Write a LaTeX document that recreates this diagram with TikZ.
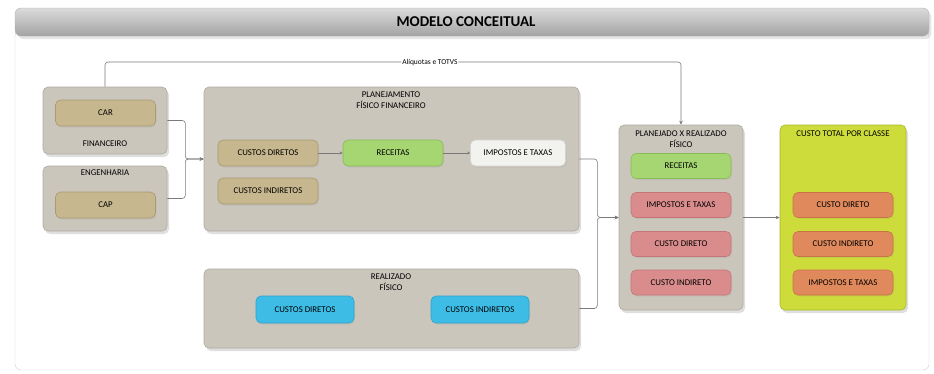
\documentclass[tikz,border=0pt]{standalone}
\usepackage{fontspec}
\setmainfont{Carlito}
\usetikzlibrary{positioning, shapes.geometric, arrows.meta, shadows}

\definecolor{grpfill}{HTML}{CAC6BC}
\definecolor{grpdraw}{HTML}{B0AB9F}
\definecolor{tanfill}{HTML}{C7B78E}
\definecolor{tandraw}{HTML}{A99A72}
\definecolor{grnfill}{HTML}{A6D672}
\definecolor{grndraw}{HTML}{86BD55}
\definecolor{whtfill}{HTML}{F2F2EF}
\definecolor{whtdraw}{HTML}{D5D5D0}
\definecolor{pnkfill}{HTML}{DA8C8C}
\definecolor{pnkdraw}{HTML}{C47676}
\definecolor{blufill}{HTML}{3DBDE6}
\definecolor{bludraw}{HTML}{2CA3CC}
\definecolor{ylwfill}{HTML}{CDDC3A}
\definecolor{ylwdraw}{HTML}{AAB72C}
\definecolor{orgfill}{HTML}{E0895C}
\definecolor{orgdraw}{HTML}{C87448}
\definecolor{linecol}{HTML}{7A7A7A}

\tikzset{
  grp/.style={draw=grpdraw, fill=grpfill, rounded corners=5pt, line width=0.6pt,
    drop shadow={opacity=0.25, shadow xshift=2pt, shadow yshift=-3pt}},
  item/.style={rounded corners=5pt, line width=0.6pt, minimum width=100pt,
    minimum height=26pt, font=\fontsize{8.8}{9}\selectfont,
    drop shadow={opacity=0.12, shadow xshift=1pt, shadow yshift=-1.5pt}},
  tanbox/.style={item, draw=tandraw, fill=tanfill},
  grnbox/.style={item, draw=grndraw, fill=grnfill},
  whtbox/.style={item, draw=whtdraw, fill=whtfill},
  pnkbox/.style={item, draw=pnkdraw, fill=pnkfill},
  blubox/.style={item, draw=bludraw, fill=blufill},
  orgbox/.style={item, draw=orgdraw, fill=orgfill},
  lbl/.style={font=\fontsize{8.8}{11}\selectfont, align=center},
  conn/.style={draw=linecol, line width=0.6pt, rounded corners=3pt, -{Stealth[length=4pt,width=3.5pt]}}
}

\begin{document}
\begin{tikzpicture}[x=1pt, y=-1pt]
  \useasboundingbox (0,0) rectangle (934,373);
  % moldura e titulo
  \draw[draw=black!18, fill=white, rounded corners=6pt] (15,30) rectangle (929,370);
  \shade[top color=black!14, bottom color=black!36, draw=black!30, rounded corners=6pt,
    drop shadow={opacity=0.2, shadow yshift=-3pt}] (15,8) rectangle (929,36);
  \node[font=\fontsize{15}{16}\selectfont\bfseries] (titulo) at (466,22) {MODELO CONCEITUAL};

  % grupos
  \node[grp, minimum width=124pt, minimum height=67pt] (fin) at (105,120.5) {};
  \node[grp, minimum width=124pt, minimum height=65pt] (eng) at (105,198.5) {};
  \node[grp, minimum width=375pt, minimum height=144pt] (plan) at (391.5,159) {};
  \node[grp, minimum width=375pt, minimum height=79pt] (real) at (391.5,308.5) {};
  \node[grp, minimum width=124pt, minimum height=185pt] (pxr) at (681,217.5) {};
  \node[grp, draw=ylwdraw, fill=ylwfill, minimum width=126pt, minimum height=185pt] (ctpc) at (843,217.5) {};

  % titulos dos grupos
  \node[lbl] (finlbl) at (105,144) {FINANCEIRO};
  \node[lbl] (englbl) at (105,173) {ENGENHARIA};
  \node[lbl] (planlbl) at (391,100) {PLANEJAMENTO\\FÍSICO FINANCEIRO};
  \node[lbl] (reallbl) at (391,282) {REALIZADO\\FÍSICO};
  \node[lbl] (pxrlbl) at (681,139) {PLANEJADO X REALIZADO\\FÍSICO};
  \node[lbl] (ctpclbl) at (843,134) {CUSTO TOTAL POR CLASSE};

  % itens
  \node[tanbox] (car) at (105.5,113) {CAR};
  \node[tanbox] (cap) at (105.5,205) {CAP};

  \node[tanbox] (cd) at (268,153) {CUSTOS DIRETOS};
  \node[grnbox] (rec) at (393,153) {RECEITAS};
  \node[whtbox, minimum width=95pt] (imp) at (518,153) {IMPOSTOS E TAXAS};
  \node[tanbox] (ci) at (268,191) {CUSTOS INDIRETOS};

  \node[blubox, minimum width=98pt, minimum height=27pt] (rcd) at (305,309.5) {CUSTOS DIRETOS};
  \node[blubox, minimum width=98pt, minimum height=27pt] (rci) at (480,309.5) {CUSTOS INDIRETOS};

  \node[grnbox, minimum height=25pt] (prec) at (681,166) {RECEITAS};
  \node[pnkbox, minimum height=25pt] (pimp) at (681,205) {IMPOSTOS E TAXAS};
  \node[pnkbox, minimum height=25pt] (pcd) at (681,244) {CUSTO DIRETO};
  \node[pnkbox, minimum height=25pt] (pci) at (681,282.5) {CUSTO INDIRETO};

  \node[orgbox, minimum height=25pt] (tcd) at (843,205) {CUSTO DIRETO};
  \node[orgbox, minimum height=25pt] (tci) at (843,244) {CUSTO INDIRETO};
  \node[orgbox, minimum height=25pt] (timp) at (843,282.5) {IMPOSTOS E TAXAS};

  % ligacoes
  \coordinate (dobra) at (105,62);
  \draw[conn] (fin.north) -- (dobra) -| (pxr.north)
    node[pos=0.282, fill=white, inner sep=1pt, font=\fontsize{7.5}{8}\selectfont] (aliq) {Alíquotas e TOTVS};
  \draw[conn] (fin.east) -- ++(18,0) |- (plan.west);
  \draw[conn] (eng.east) -- ++(18,0) |- (plan.west);
  \draw[conn, -{Stealth[length=3pt,width=3pt]}] (cd) -- (rec);
  \draw[conn, -{Stealth[length=3pt,width=3pt]}] (rec) -- (imp);
  \draw[conn] (plan.east) -- ++(18,0) |- (pxr.west);
  \draw[conn] (real.east) -- ++(18,0) |- (pxr.west);
  \draw[conn] (pxr) -- (ctpc);
\end{tikzpicture}
\end{document}
